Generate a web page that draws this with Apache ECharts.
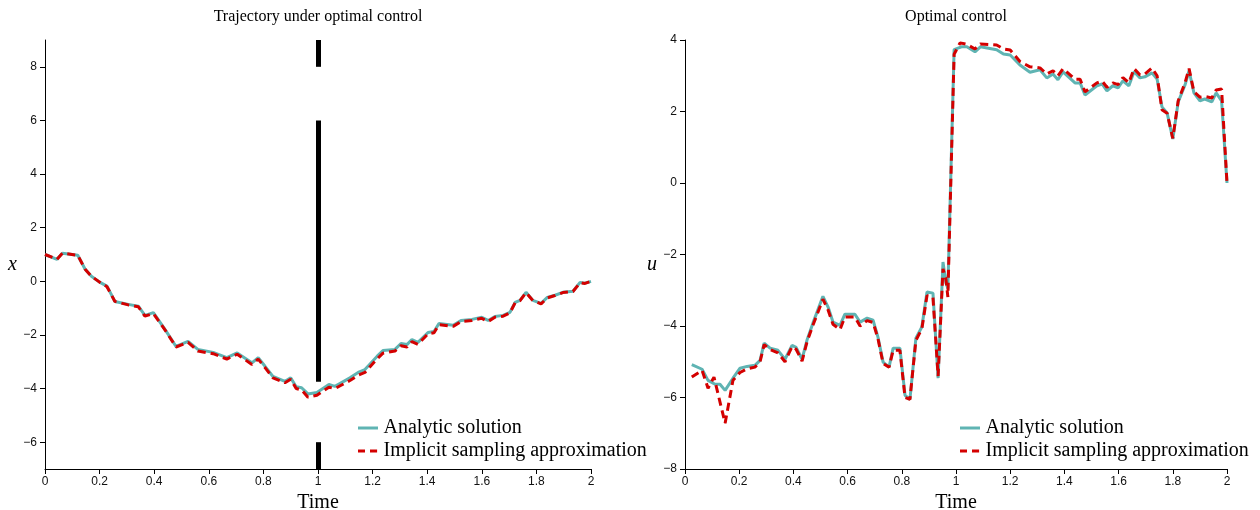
<!DOCTYPE html>
<html>
<head>
<meta charset="utf-8">
<script src="https://cdn.jsdelivr.net/npm/echarts@6/dist/echarts.min.js"></script>
<style>html,body{margin:0;padding:0;background:#fff}#c{width:1260px;height:510px}</style>
</head>
<body>
<div id="c"></div>
<script>
// ---------- data ----------
const xTicks = [0, 0.2, 0.4, 0.6, 0.8, 1, 1.2, 1.4, 1.6, 1.8, 2];
const leftYTicks = [-6, -4, -2, 0, 2, 4, 6, 8];
const rightYTicks = [-8, -6, -4, -2, 0, 2, 4];
const seriesNames = ['Analytic solution', 'Implicit sampling approximation'];

// Trajectory (left panel)  [time, x]
const analyticX = [
  [0,1.0],[0.044,0.82],[0.064,1.05],[0.12,0.97],[0.147,0.45],[0.17,0.19],[0.2,-0.03],[0.227,-0.18],
  [0.256,-0.75],[0.305,-0.86],[0.342,-0.93],[0.366,-1.27],[0.397,-1.17],[0.44,-1.8],[0.48,-2.43],
  [0.524,-2.24],[0.56,-2.54],[0.616,-2.65],[0.666,-2.85],[0.704,-2.67],[0.758,-3.04],[0.781,-2.85],
  [0.806,-3.17],[0.835,-3.55],[0.879,-3.73],[0.9,-3.6],[0.92,-3.93],[0.94,-3.97],[0.963,-4.2],
  [0.996,-4.15],[1.04,-3.85],[1.062,-3.92],[1.117,-3.6],[1.147,-3.4],[1.172,-3.29],[1.216,-2.8],
  [1.238,-2.58],[1.282,-2.54],[1.304,-2.32],[1.326,-2.36],[1.344,-2.17],[1.366,-2.28],[1.403,-1.91],
  [1.425,-1.87],[1.443,-1.57],[1.495,-1.64],[1.524,-1.46],[1.564,-1.42],[1.6,-1.34],[1.623,-1.46],
  [1.648,-1.31],[1.678,-1.27],[1.703,-1.16],[1.722,-0.79],[1.74,-0.71],[1.762,-0.41],[1.787,-0.71],
  [1.817,-0.82],[1.84,-0.6],[1.868,-0.52],[1.897,-0.41],[1.934,-0.37],[1.96,-0.04],[1.978,-0.07],[2.0,0.0]
];
const implicitX = [
  [0,1.0],[0.044,0.82],[0.064,1.05],[0.12,0.97],[0.147,0.45],[0.17,0.19],[0.2,-0.03],[0.227,-0.2],
  [0.256,-0.75],[0.305,-0.88],[0.342,-0.95],[0.366,-1.3],[0.397,-1.2],[0.44,-1.82],[0.48,-2.45],
  [0.524,-2.28],[0.56,-2.6],[0.616,-2.7],[0.666,-2.9],[0.704,-2.72],[0.758,-3.1],[0.781,-2.9],
  [0.806,-3.22],[0.835,-3.6],[0.879,-3.78],[0.9,-3.65],[0.92,-4.0],[0.94,-4.05],[0.963,-4.32],
  [0.996,-4.25],[1.04,-3.95],[1.062,-4.0],[1.117,-3.7],[1.147,-3.5],[1.172,-3.4],[1.216,-2.9],
  [1.238,-2.68],[1.282,-2.6],[1.304,-2.4],[1.326,-2.45],[1.344,-2.25],[1.366,-2.35],[1.403,-1.96],
  [1.425,-1.92],[1.443,-1.62],[1.495,-1.68],[1.524,-1.5],[1.564,-1.46],[1.6,-1.38],[1.623,-1.5],
  [1.648,-1.34],[1.678,-1.3],[1.703,-1.18],[1.722,-0.8],[1.74,-0.72],[1.762,-0.42],[1.787,-0.72],
  [1.817,-0.84],[1.84,-0.62],[1.868,-0.53],[1.897,-0.42],[1.934,-0.38],[1.96,-0.05],[1.978,-0.08],[2.0,0.0]
];
// observation marker at t = 1 (segments)
const markerSegments = [[9, 8], [6, -3.75], [-6, -7]];
const markerTime = 1;

// Control (right panel)  [time, u]
const analyticU = [
  [0.025,-5.08],[0.063,-5.21],[0.085,-5.52],[0.111,-5.63],[0.129,-5.63],[0.148,-5.8],[0.177,-5.46],
  [0.203,-5.18],[0.229,-5.13],[0.258,-5.1],[0.277,-4.96],[0.292,-4.48],[0.314,-4.62],[0.343,-4.68],
  [0.369,-4.93],[0.395,-4.54],[0.41,-4.6],[0.432,-4.93],[0.45,-4.4],[0.472,-3.92],[0.509,-3.17],
  [0.528,-3.47],[0.546,-3.89],[0.572,-3.98],[0.59,-3.67],[0.627,-3.67],[0.646,-3.89],[0.672,-3.78],
  [0.694,-3.84],[0.712,-4.31],[0.731,-5.01],[0.753,-5.15],[0.768,-4.62],[0.793,-4.62],[0.812,-5.94],
  [0.83,-6.05],[0.852,-4.34],[0.874,-4.03],[0.893,-3.05],[0.915,-3.08],[0.934,-5.46],[0.952,-2.21],
  [0.963,-2.8],[0.97,-2.95],[0.993,3.73],[1.02,3.81],[1.04,3.81],[1.07,3.67],[1.09,3.81],[1.15,3.73],
  [1.175,3.61],[1.2,3.58],[1.236,3.3],[1.273,3.1],[1.31,3.17],[1.335,2.94],[1.358,3.05],[1.376,2.89],
  [1.395,3.11],[1.439,2.8],[1.458,2.8],[1.476,2.46],[1.52,2.72],[1.539,2.77],[1.557,2.58],[1.579,2.72],
  [1.598,2.66],[1.616,2.86],[1.638,2.72],[1.657,3.11],[1.679,2.94],[1.697,2.97],[1.723,3.08],[1.742,2.91],
  [1.76,2.13],[1.779,1.96],[1.8,1.23],[1.82,2.27],[1.845,2.74],[1.86,3.14],[1.878,2.52],[1.9,2.3],
  [1.918,2.35],[1.944,2.27],[1.96,2.52],[1.98,2.3],[2.0,0.0]
];
const implicitU = [
  [0.025,-5.43],[0.063,-5.24],[0.085,-5.74],[0.107,-5.43],[0.148,-6.72],[0.177,-5.52],[0.203,-5.3],
  [0.229,-5.2],[0.258,-5.15],[0.277,-5.0],[0.292,-4.52],[0.314,-4.66],[0.343,-4.75],[0.369,-5.0],
  [0.395,-4.58],[0.41,-4.65],[0.432,-4.98],[0.45,-4.45],[0.472,-3.98],[0.509,-3.25],[0.528,-3.55],
  [0.546,-3.95],[0.572,-4.1],[0.59,-3.75],[0.627,-3.75],[0.646,-4.0],[0.672,-3.85],[0.694,-3.9],
  [0.712,-4.35],[0.731,-5.05],[0.753,-5.15],[0.768,-4.68],[0.793,-4.68],[0.812,-6.0],[0.83,-6.05],
  [0.852,-4.4],[0.874,-4.08],[0.893,-3.15],[0.915,-3.2],[0.934,-5.4],[0.952,-2.4],[0.963,-2.7],
  [0.97,-3.19],[0.993,3.6],[1.015,3.92],[1.04,3.88],[1.07,3.75],[1.09,3.89],[1.15,3.86],[1.175,3.75],
  [1.2,3.72],[1.236,3.4],[1.273,3.25],[1.31,3.22],[1.335,3.05],[1.358,3.14],[1.376,3.0],[1.395,3.2],
  [1.439,2.9],[1.458,2.9],[1.476,2.55],[1.52,2.8],[1.539,2.85],[1.557,2.68],[1.579,2.8],[1.598,2.75],
  [1.616,2.95],[1.638,2.8],[1.657,3.2],[1.679,3.02],[1.697,3.05],[1.723,3.22],[1.742,3.0],[1.76,2.05],
  [1.779,1.95],[1.8,1.25],[1.82,2.3],[1.845,2.8],[1.86,3.2],[1.878,2.55],[1.9,2.4],[1.918,2.42],
  [1.944,2.38],[1.96,2.6],[1.98,2.63],[2.0,0.0]
];

// ---------- styles ----------
const TEAL = '#5fb4b3';
const RED = '#d40000';
const SERIF = '"Liberation Serif", "DejaVu Serif", serif';
const SANS = '"Liberation Sans", Arial, sans-serif';
const fmt = v => String(+(+v).toFixed(1)).replace('-', '\u2212');

function xAxisDef(gridIndex) {
  return {
    type: 'value', gridIndex, min: 0, max: 2,
    name: 'Time', nameLocation: 'middle', nameGap: 24,
    nameTextStyle: { fontFamily: SERIF, fontSize: 20, color: '#000' },
    axisLine: { show: true, onZero: false, lineStyle: { color: '#000', width: 1 } },
    axisTick: { show: true, inside: false, length: 5, lineStyle: { color: '#000' }, customValues: xTicks },
    axisLabel: { customValues: xTicks, formatter: fmt, fontFamily: SANS, fontSize: 12, color: '#111', margin: 7 },
    splitLine: { show: false }
  };
}
function yAxisDef(gridIndex, min, max, ticks, name, gap) {
  return {
    type: 'value', gridIndex, min, max,
    name, nameLocation: 'middle', nameGap: gap, nameRotate: 0,
    nameTextStyle: { fontFamily: SERIF, fontSize: 20, fontStyle: 'italic', color: '#000', verticalAlign: 'top' },
    axisLine: { show: true, onZero: false, lineStyle: { color: '#000', width: 1 } },
    axisTick: { show: true, inside: false, length: 5, lineStyle: { color: '#000' }, customValues: ticks },
    axisLabel: { customValues: ticks, formatter: fmt, fontFamily: SANS, fontSize: 12, color: '#111', margin: 8 },
    splitLine: { show: false }
  };
}
function lineSeries(name, data, xi, yi, color, dashed) {
  return {
    name, type: 'line', xAxisIndex: xi, yAxisIndex: yi, data,
    showSymbol: false, symbol: 'none', smooth: false, silent: true,
    lineStyle: { color, width: 3, type: dashed ? [8, 5] : 'solid' },
    itemStyle: { color }, z: dashed ? 3 : 2
  };
}
const ICON_SOLID = 'path://M0,0H20V3H0Z';
const ICON_DASH = 'path://M0,0H7V3H0Z M12,0H19V3H12Z M19.9,0H20V3H19.9Z';
function legendDef(left) {
  return {
    data: [
      { name: seriesNames[0], icon: ICON_SOLID, itemStyle: { color: TEAL } },
      { name: seriesNames[1], icon: ICON_DASH, itemStyle: { color: RED } }
    ],
    orient: 'vertical', left, top: 413,
    itemWidth: 21, itemHeight: 3, itemGap: 3,
    textStyle: { fontFamily: SERIF, fontSize: 20, color: '#000', lineHeight: 20, padding: [0, 0, 0, 0] },
    selectedMode: false
  };
}

const chart = echarts.init(document.getElementById('c'), null, { renderer: 'canvas' });
chart.setOption({
  animation: false,
  backgroundColor: '#fff',
  grid: [
    { left: 45, top: 40, width: 546, height: 429, containLabel: false, outerBoundsMode: 'none' },
    { left: 685, top: 40, width: 542, height: 429, containLabel: false, outerBoundsMode: 'none' }
  ],
  xAxis: [xAxisDef(0), xAxisDef(1)],
  yAxis: [
    yAxisDef(0, -7, 9, leftYTicks, 'x', 28),
    yAxisDef(1, -8, 4, rightYTicks, 'u', 28)
  ],
  legend: [legendDef(353), legendDef(955)],
  graphic: [
    { type: 'text', x: 318, y: 9, style: { text: 'Trajectory under optimal control', fontFamily: SERIF, fontSize: 16, fill: '#000', textAlign: 'center' } },
    { type: 'text', x: 956, y: 9, style: { text: 'Optimal control', fontFamily: SERIF, fontSize: 16, fill: '#000', textAlign: 'center' } }
  ],
  series: [
    {
      name: 'marker', type: 'line', xAxisIndex: 0, yAxisIndex: 0, data: [], silent: true,
      markLine: {
        silent: true, symbol: ['none', 'none'], label: { show: false },
        lineStyle: { color: '#000', width: 5, type: 'solid' },
        data: markerSegments.map(s => [{ coord: [markerTime, s[0]] }, { coord: [markerTime, s[1]] }])
      }
    },
    lineSeries(seriesNames[0], analyticX, 0, 0, TEAL, false),
    lineSeries(seriesNames[1], implicitX, 0, 0, RED, true),
    lineSeries(seriesNames[0], analyticU, 1, 1, TEAL, false),
    lineSeries(seriesNames[1], implicitU, 1, 1, RED, true)
  ]
});
</script>
</body>
</html>
